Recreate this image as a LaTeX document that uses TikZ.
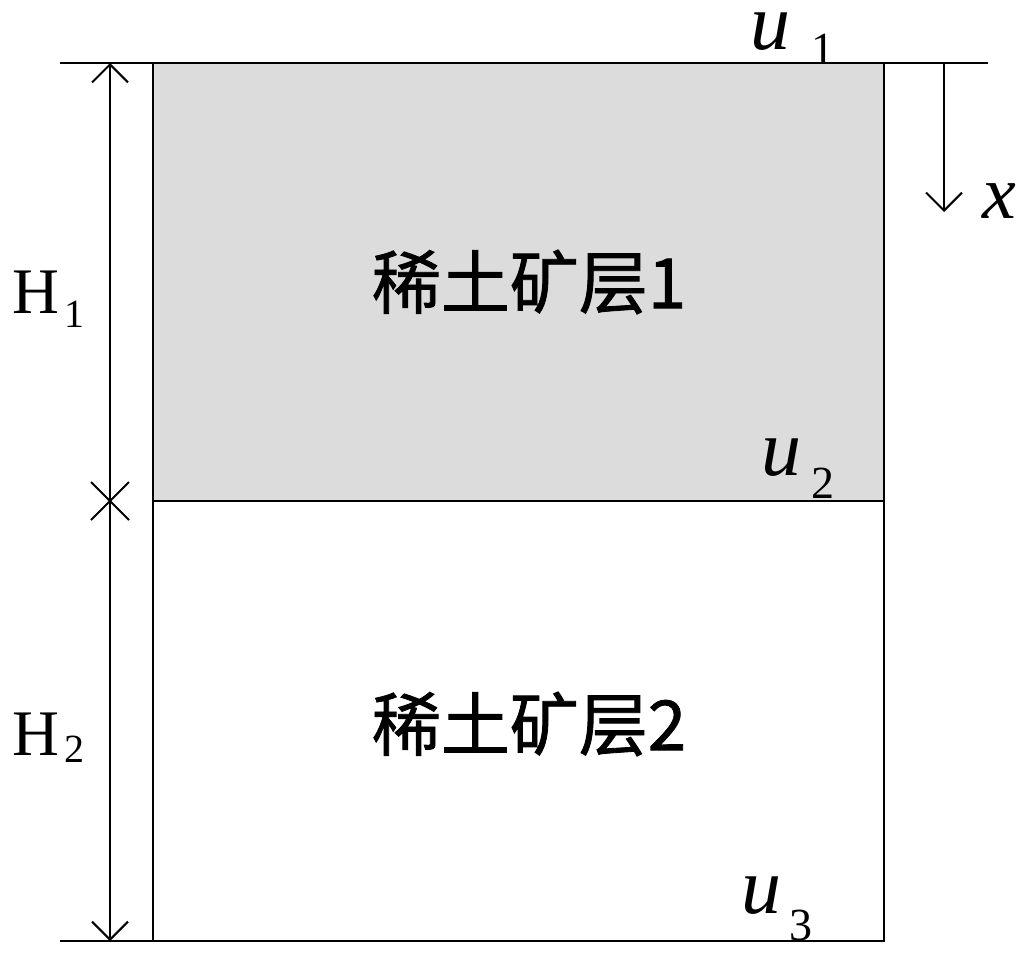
\documentclass[tikz,border=0pt]{standalone}
\usepackage{fontspec}
\setmainfont{Liberation Serif}
\newfontfamily\cjk[FakeBold=1.2]{Noto Sans CJK SC}
\usetikzlibrary{arrows.meta}
\tikzset{
  edge/.style={line width=2.6pt, black},
  thin edge/.style={line width=2pt, black},
  barb/.style={-{Straight Barb[length=18pt,width=36pt,line width=2pt]}},
  lbl/.style={inner sep=0pt, anchor=base west},
  ulbl/.style={lbl, font=\fontsize{80}{80}\selectfont\itshape},
  sublbl/.style={lbl, font=\fontsize{46}{46}\selectfont},
  hlbl/.style={lbl, font=\fontsize{65}{65}\selectfont},
  hsub/.style={lbl, font=\fontsize{40}{40}\selectfont},
  layer/.style={inner sep=0pt, font=\cjk\fontsize{69}{69}\selectfont}
}
\begin{document}
\begin{tikzpicture}[x=1pt,y=-1pt]
\useasboundingbox (0,0) rectangle (1036,958);
% fill
\fill[fill={rgb,255:red,220;green,220;blue,220}] (153,63) rectangle (884,501);
% coordinates
\coordinate (tl) at (60,63);
\coordinate (tr) at (988,63);
\coordinate (bl) at (60,941);
\coordinate (r1) at (153,63);
\coordinate (r2) at (884,63);
\coordinate (r3) at (884,941);
\coordinate (r4) at (153,941);
\coordinate (m1) at (153,501);
\coordinate (m2) at (884,501);
\coordinate (dtop) at (110,63);
\coordinate (dmid) at (110,501);
\coordinate (dbot) at (110,941);
\coordinate (xs) at (944,63);
\coordinate (xe) at (944,212);
% lines
\draw[edge] (tl) -- (tr);
\draw[edge] (bl) -- (r3) -- (r2);
\draw[edge] (r1) -- (r4);
\draw[edge] (m1) -- (m2);
% dimension line
\draw[thin edge, barb] (dmid) -- (dtop);
\draw[thin edge, barb] (dmid) -- (dbot);
\draw[thin edge] ([shift={(-19,-19)}]dmid) -- ([shift={(19,19)}]dmid);
\draw[thin edge] ([shift={(-19,19)}]dmid) -- ([shift={(19,-19)}]dmid);
% x axis
\draw[thin edge, barb] (xs) -- (xe);
\node[lbl, font=\fontsize{76}{76}\selectfont\itshape] (xl) at (982,218) {x};
% u labels
\node[ulbl] (u1) at (750,49) {u};
\node[sublbl] (u1s) at (811,65) {1};
\node[ulbl] (u2) at (761,475) {u};
\node[sublbl] (u2s) at (811,498) {2};
\node[ulbl] (u3) at (741,913) {u};
\node[sublbl] (u3s) at (789,940) {3};
% H labels
\node[hlbl] (h1) at (12,313) {H};
\node[hsub] (h1s) at (64,327) {1};
\node[hlbl] (h2) at (12,755) {H};
\node[hsub] (h2s) at (64,762) {2};
% layer names
\node[layer] (L1) at (529,282) {稀土矿层1};
\node[layer] (L2) at (529,724) {稀土矿层2};
\end{tikzpicture}
\end{document}
